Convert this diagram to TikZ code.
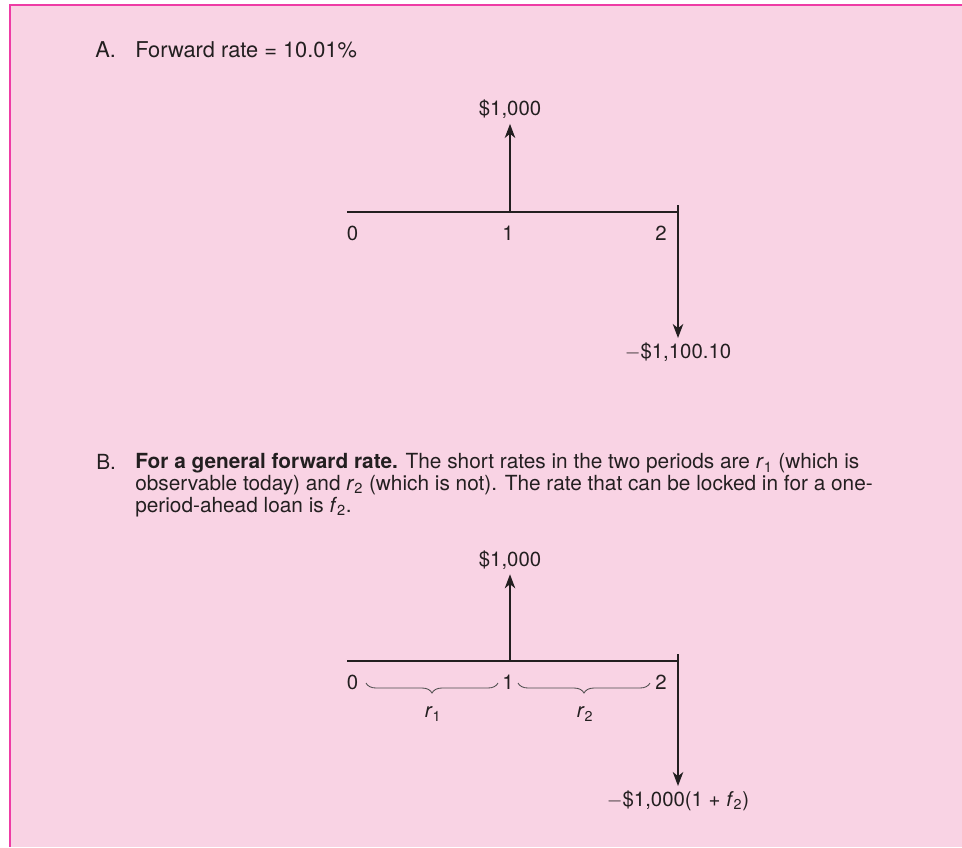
\documentclass[tikz,border=0pt]{standalone}
\usepackage{fontspec}
\setmainfont{TeX Gyre Heros}
\usetikzlibrary{arrows.meta,decorations.pathreplacing}
\definecolor{panelpink}{RGB}{249,211,228}
\definecolor{rulepink}{RGB}{238,60,165}
\definecolor{inkgray}{RGB}{35,31,32}

\begin{document}
\begin{tikzpicture}[
    font=\fontsize{14.5pt}{15.5pt}\selectfont,
    every node/.style={text=inkgray},
    caption/.style={anchor=base west, inner sep=0pt, font=\fontsize{15.5pt}{15.5pt}\selectfont},
    body/.style={anchor=base west, inner sep=0pt, align=left, font=\fontsize{14.8pt}{15.3pt}\selectfont},
    axis/.style={line width=0.9pt, draw=inkgray},
    flow/.style={-{Stealth[length=10pt, width=7.5pt, inset=3pt]}, line width=0.9pt, draw=inkgray, fill=inkgray},
    period/.style={decorate, decoration={brace, mirror, amplitude=0.25cm}, line width=0.6pt, black!70}
]
    % 背景
    \useasboundingbox (0,0) rectangle (24.05,-21.175);
    \fill[panelpink] (0.25,-0.125) rectangle (24.05,-21.175);
    \draw[rulepink, line width=1.4pt] (0.25,-21.175) -- (0.25,-0.125) -- (24.05,-0.125);

    % A 标题
    \node[caption] (tagA) at (2.375,-1.425) {A.};
    \node[caption] (titleA) at (3.375,-1.425) {Forward rate = 10.01\%};

    % A 时间轴
    \coordinate (a0) at (8.675,-5.3);
    \coordinate (a1) at (12.75,-5.3);
    \coordinate (a2) at (16.95,-5.3);
    \coordinate (a2top) at (16.95,-5.125);
    \draw[axis] (a0) -- (a2);
    \node (a0lab) at (8.8125,-5.825) {0};
    \node (a1lab) at (12.7,-5.825) {1};
    \node (a2lab) at (16.525,-5.825) {2};

    % A 现金流
    \node (inA) at (12.75,-2.74) {\$1,000};
    \node[anchor=north] (outA) at (16.95,-8.45) {$-$\$1,100.10};
    \draw[flow] (a1) -- (inA);
    \draw[flow] (a2top) -- (outA);

    % B 标题
    \node[caption, font=\fontsize{14.8pt}{15.3pt}\selectfont] (tagB) at (2.4,-11.725) {B.};
    \node[body] (textB) at (3.375,-12.8)
        {\textbf{For a general forward rate.} The short rates in the two periods are \textit{r}\textsubscript{1} (which is\\
         observable today) and \textit{r}\textsubscript{2} (which is not). The rate that can be locked in for a one-\\
         period-ahead loan is \textit{f}\textsubscript{2}.};

    % B 时间轴
    \coordinate (b0) at (8.675,-16.525);
    \coordinate (b1) at (12.75,-16.525);
    \coordinate (b2) at (16.95,-16.525);
    \coordinate (b2top) at (16.95,-16.35);
    \draw[axis] (b0) -- (b2);
    \node (b0lab) at (8.8125,-17.05) {0};
    \node (b1lab) at (12.7,-17.05) {1};
    \node (b2lab) at (16.525,-17.05) {2};

    % 期间
    \coordinate (p1s) at (9.15,-17.075);
    \coordinate (p1e) at (12.45,-17.075);
    \coordinate (p2s) at (12.95,-17.075);
    \coordinate (p2e) at (16.25,-17.075);
    \draw[period] (p1s) -- (p1e);
    \draw[period] (p2s) -- (p2e);
    \node (r1) at (10.825,-17.85) {\textit{r}\textsubscript{1}};
    \node (r2) at (14.625,-17.85) {\textit{r}\textsubscript{2}};

    % B 现金流
    \node (inB) at (12.75,-14.0) {\$1,000};
    \node[anchor=north] (outB) at (16.95,-19.65) {$-$\$1,000(1 + \textit{f}\textsubscript{2})};
    \draw[flow] (b1) -- (inB);
    \draw[flow] (b2top) -- (outB);
\end{tikzpicture}
\end{document}
